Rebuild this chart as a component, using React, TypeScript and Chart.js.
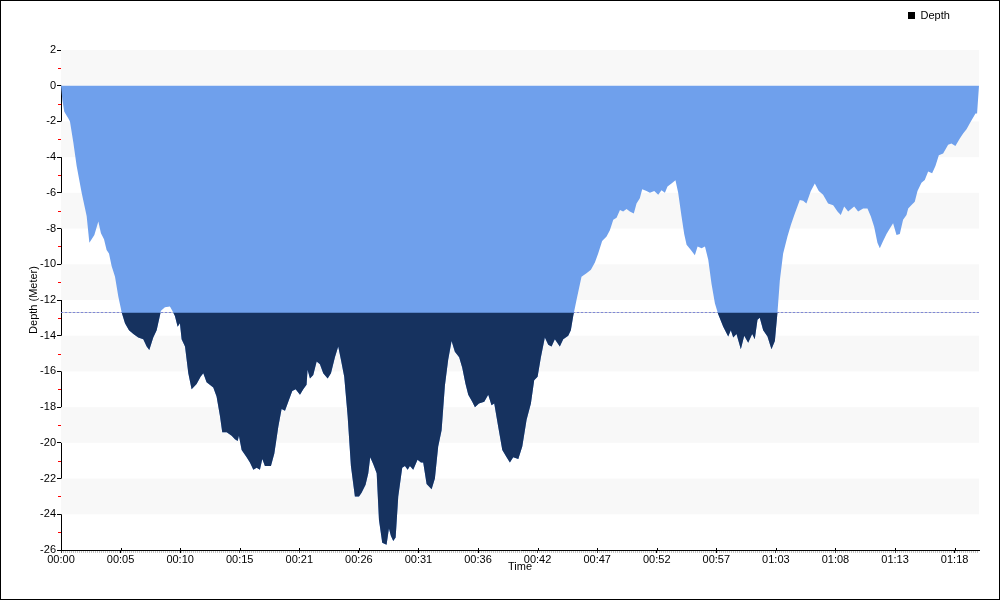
import React, { useEffect, useRef } from "react";
import { Chart, registerables } from "chart.js";

Chart.register(...registerables);

// Elapsed time of each sample, in minutes
const timeMin: number[] = [
  0, 0.12, 0.29, 0.65, 0.79, 1.09, 1.38, 1.82, 2.26, 2.5,
  2.7, 2.94, 3.29, 3.52, 3.79, 4.02, 4.23, 4.46, 4.76, 5.05,
  5.35, 5.64, 5.99, 6.38, 6.81, 7.25, 7.55, 7.78, 8.13, 8.43,
  8.81, 9.16, 9.6, 9.81, 10.04, 10.28, 10.48, 10.63, 10.93, 11.22,
  11.51, 11.95, 12.3, 12.54, 12.83, 13.42, 13.71, 14.01, 14.21, 14.6,
  15.04, 15.33, 15.57, 15.68, 15.92, 16.36, 16.65, 16.95, 17.24, 17.53,
  17.74, 17.97, 18.5, 18.8, 19.15, 19.44, 19.74, 20.03, 20.38, 20.68,
  21.06, 21.35, 21.64, 21.73, 21.94, 22.23, 22.53, 22.82, 23.11, 23.5,
  23.79, 24.14, 24.43, 24.67, 24.96, 25.26, 25.55, 25.9, 26.26, 26.49,
  26.84, 27.08, 27.25, 27.52, 27.82, 28.02, 28.31, 28.69, 28.9, 29.07,
  29.28, 29.49, 29.72, 30.07, 30.31, 30.55, 30.75, 31.04, 31.42, 31.72,
  31.92, 32.22, 32.66, 32.95, 33.24, 33.54, 33.83, 34.12, 34.42, 34.71,
  35.09, 35.36, 35.65, 35.89, 36.24, 36.48, 36.83, 37.3, 37.65, 37.94,
  38.18, 38.53, 38.89, 39.27, 39.56, 39.85, 40.3, 40.65, 41.03, 41.41,
  41.7, 42.0, 42.29, 42.64, 42.94, 43.23, 43.52, 43.96, 44.26, 44.7,
  44.93, 45.14, 45.43, 45.87, 46.31, 46.7, 47.05, 47.34, 47.69, 48.08,
  48.37, 48.67, 48.96, 49.26, 49.54, 49.84, 50.13, 50.48, 50.72, 51.01,
  51.22, 51.6, 51.9, 52.28, 52.63, 52.92, 53.22, 53.45, 53.8, 54.15,
  54.39, 54.68, 54.92, 55.13, 55.51, 55.86, 56.1, 56.45, 56.75, 57.04,
  57.33, 57.63, 57.92, 58.36, 58.8, 59.03, 59.24, 59.53, 59.91, 60.21,
  60.56, 60.91, 61.14, 61.38, 61.58, 61.88, 62.26, 62.61, 62.91, 63.14,
  63.35, 63.64, 64.02, 64.32, 64.67, 65.11, 65.4, 65.69, 66.08, 66.43,
  66.78, 67.16, 67.6, 68.05, 68.43, 68.72, 69.02, 69.37, 69.9, 70.25,
  70.69, 71.07, 71.37, 71.66, 71.95, 72.16, 72.45, 72.75, 73.04, 73.33,
  73.63, 73.92, 74.21, 74.51, 74.66, 74.95, 75.24, 75.48, 75.83, 76.12,
  76.42, 76.77, 77.06, 77.36, 77.74, 78.18, 78.47, 78.82, 79.21, 79.5,
  79.8, 80.18, 80.59, 80.73, 80.9,
];

// Depth of each sample, in meters (negative = below surface)
const depthM: number[] = [
  0, -0.8, -1.46, -1.83, -2.0, -3.2, -4.5, -6.0, -7.3, -8.8,
  -8.6, -8.36, -7.6, -8.26, -8.6, -9.2, -9.4, -10.1, -10.7, -11.8,
  -12.7, -13.3, -13.7, -13.9, -14.1, -14.2, -14.6, -14.8, -14.1, -13.7,
  -12.6, -12.4, -12.37, -12.6, -12.9, -13.5, -13.3, -14.2, -14.6, -16.1,
  -17.0, -16.7, -16.3, -16.1, -16.6, -16.9, -17.4, -18.5, -19.4, -19.4,
  -19.6, -19.8, -19.9, -19.6, -20.4, -20.8, -21.1, -21.5, -21.4, -21.5,
  -20.9, -21.3, -21.3, -20.6, -19.1, -18.1, -18.2, -17.7, -17.1, -17.0,
  -17.3, -17.0, -16.75, -15.9, -16.4, -16.2, -15.45, -15.6, -16.1, -16.4,
  -16.1, -15.2, -14.6, -15.35, -16.3, -18.5, -21.3, -23.0, -23.0, -22.8,
  -22.35, -21.7, -20.8, -21.2, -21.7, -24.3, -25.6, -25.7, -24.8, -25.2,
  -25.5, -25.3, -23.0, -21.4, -21.3, -21.5, -21.3, -21.5, -20.95, -21.1,
  -21.1, -22.3, -22.6, -22.0, -20.2, -19.3, -16.8, -15.35, -14.3, -14.9,
  -15.2, -15.8, -16.7, -17.3, -17.7, -18.0, -17.8, -17.7, -17.3, -17.9,
  -17.8, -19.1, -20.4, -20.8, -21.1, -20.8, -20.9, -20.2, -18.7, -17.8,
  -16.5, -16.3, -15.2, -14.1, -14.5, -14.6, -14.2, -14.6, -14.2, -14.0,
  -13.7, -12.9, -12.0, -10.7, -10.5, -10.3, -9.9, -9.4, -8.7, -8.45,
  -8.1, -7.5, -7.4, -6.96, -7.05, -6.9, -7.05, -7.15, -6.6, -6.3,
  -5.8, -5.9, -6.0, -5.9, -6.1, -5.85, -6.0, -5.65, -5.47, -5.3,
  -6.0, -7.3, -8.3, -8.9, -9.2, -9.5, -9.0, -9.1, -9.0, -9.75,
  -11.1, -12.2, -12.8, -13.5, -14.05, -13.7, -14.1, -13.9, -14.76, -14.0,
  -14.4, -13.9, -14.2, -13.1, -13.0, -13.7, -14.05, -14.76, -14.3, -12.7,
  -10.9, -9.4, -8.45, -7.8, -7.15, -6.4, -6.44, -6.6, -5.9, -5.47,
  -5.9, -6.1, -6.6, -6.7, -7.05, -7.24, -6.77, -7.05, -6.77, -7.05,
  -6.87, -6.87, -7.33, -7.9, -8.8, -9.1, -8.7, -8.3, -8.0, -7.7,
  -8.36, -8.3, -7.5, -7.24, -6.87, -6.68, -6.5, -5.9, -5.43, -5.28,
  -4.8, -4.9, -4.5, -3.9, -3.8, -3.3, -3.23, -3.38, -2.95, -2.67,
  -2.44, -2.0, -1.55, -1.55, 0,
];

// X-axis tick positions (minutes) and range
const xTickMinutes: number[] = [
  0, 5.25, 10.5, 15.75, 21, 26.25, 31.5, 36.75, 42, 47.25, 52.5, 57.75, 63, 68.25, 73.5, 78.75,
];
const xMaxMinutes = 80.9;

// Y-axis range and step
const yMin = -26;
const yMax = 2;
const yStep = 2;

// Depth limit line
const limitDepth = -12.7;

const seriesName = "Depth";
const xTitle = "Time";
const yTitle = "Depth (Meter)";

const BLUE = "#6FA0EC";
const NAVY = "#16325F";
const BAND = "#F8F8F8";

const pad2 = (n: number) => (n < 10 ? "0" + n : "" + n);
const fmtTime = (m: number) => {
  const h = Math.floor(m / 60 + 1e-9);
  const mm = Math.floor(m - h * 60 + 1e-9);
  return pad2(h) + ":" + pad2(mm);
};

const decorPlugin = {
  id: "decor",
  beforeLayout(chart: any) {
    const lg = chart.legend;
    if (lg && !lg.__patched) {
      const f = lg.fit;
      lg.fit = function () {
        f.call(this);
        this.height = 50;
      };
      lg.__patched = true;
    }
  },
  afterLayout(chart: any) {
    const lg = chart.legend;
    if (lg) {
      lg.left = 898;
      lg.top = 0;
    }
  },
  beforeDatasetsDraw(chart: any) {
    const { ctx, chartArea } = chart;
    const y = chart.scales.y;
    ctx.save();
    ctx.fillStyle = BAND;
    let k = 0;
    for (let v = yMax; v > yMin; v -= yStep) {
      if (k % 2 === 0) {
        const y1 = y.getPixelForValue(v);
        const y2 = y.getPixelForValue(v - yStep);
        ctx.fillRect(chartArea.left, y1, chartArea.right - chartArea.left, y2 - y1);
      }
      k++;
    }
    const yl = Math.round(y.getPixelForValue(limitDepth)) + 0.5;
    ctx.strokeStyle = "#A5A5FF";
    ctx.lineWidth = 1;
    ctx.setLineDash([2, 2]);
    ctx.beginPath();
    ctx.moveTo(chartArea.left, yl);
    ctx.lineTo(chartArea.right, yl);
    ctx.stroke();
    ctx.restore();
  },
  afterDraw(chart: any) {
    const { ctx, chartArea } = chart;
    const y = chart.scales.y;
    ctx.save();
    // minor red ticks on y axis
    ctx.strokeStyle = "#FF0000";
    ctx.lineWidth = 1;
    for (let v = yMax - 1; v > yMin; v -= yStep) {
      const py = Math.round(y.getPixelForValue(v)) + 0.5;
      ctx.beginPath();
      ctx.moveTo(chartArea.left - 3, py);
      ctx.lineTo(chartArea.left, py);
      ctx.stroke();
    }
    // minor dotted ticks under x axis
    ctx.strokeStyle = "#8A8A8A";
    ctx.setLineDash([1, 1]);
    ctx.beginPath();
    ctx.moveTo(chartArea.left, chartArea.bottom + 2);
    ctx.lineTo(chartArea.right, chartArea.bottom + 2);
    ctx.stroke();
    ctx.setLineDash([]);
    // upward part of major x ticks
    const x = chart.scales.x;
    ctx.strokeStyle = "#000";
    for (const t of xTickMinutes) {
      const px = Math.round(x.getPixelForValue(t)) + 0.5;
      ctx.beginPath();
      ctx.moveTo(px, chartArea.bottom - 2);
      ctx.lineTo(px, chartArea.bottom);
      ctx.stroke();
    }
    // outer border
    ctx.strokeStyle = "#000";
    ctx.strokeRect(0.5, 0.5, chart.width - 1, chart.height - 1);
    ctx.restore();
  },
};

export default function App() {
  const ref = useRef<HTMLCanvasElement | null>(null);
  useEffect(() => {
    document.body.style.margin = "0";
    if (!ref.current) return;
    Chart.defaults.font.family = '"Liberation Sans", Arial, sans-serif';
    Chart.defaults.font.size = 11;
    Chart.defaults.color = "#000";
    const pts = timeMin.map((t, i) => ({ x: t, y: depthM[i] }));
    const chart = new Chart(ref.current, {
      type: "line",
      data: {
        datasets: [
          {
            label: seriesName,
            data: pts,
            order: 0,
            borderColor: "rgba(0,0,0,0)",
            borderWidth: 1,
            backgroundColor: NAVY,
            pointRadius: 0,
            tension: 0,
            fill: { target: { value: limitDepth }, above: "rgba(0,0,0,0)", below: NAVY },
          } as any,
          {
            label: seriesName + " area",
            data: pts,
            order: 1,
            borderColor: "rgba(0,0,0,0)",
            borderWidth: 1,
            backgroundColor: BLUE,
            pointRadius: 0,
            tension: 0,
            fill: "origin",
          } as any,
        ],
      },
      options: {
        animation: false,
        responsive: false,
        maintainAspectRatio: false,
        events: [],
        layout: { padding: { left: 27, right: 21, top: 0, bottom: 26 } },
        plugins: {
          tooltip: { enabled: false },
          legend: {
            display: true,
            position: "top",
            align: "start",
            labels: {
              boxWidth: 7,
              boxHeight: 7,
              padding: 10,
              color: "#000",
              font: { size: 11 },
              generateLabels: () => [
                {
                  text: seriesName,
                  fillStyle: "#000",
                  strokeStyle: "#000",
                  lineWidth: 0,
                  hidden: false,
                  datasetIndex: 0,
                  fontColor: "#000",
                } as any,
              ],
            },
          },
        },
        scales: {
          x: {
            type: "linear",
            min: 0,
            max: xMaxMinutes,
            afterBuildTicks: (s: any) => {
              s.ticks = xTickMinutes.map((v) => ({ value: v }));
            },
            afterFit: (s: any) => {
              s.height = 24;
            },
            ticks: {
              callback: (v: any) => fmtTime(Number(v)),
              autoSkip: false,
              maxRotation: 0,
              padding: 0,
              color: "#000",
              font: { size: 11 },
            },
            grid: { drawOnChartArea: false, drawTicks: true, tickLength: 3, color: "#000" },
            border: { color: "#000", width: 1 },
            title: { display: true, text: xTitle, color: "#000", font: { size: 11 }, padding: 0 },
          },
          y: {
            type: "linear",
            min: yMin,
            max: yMax,
            afterFit: (s: any) => {
              s.width = 34;
            },
            ticks: { stepSize: yStep, padding: 1, color: "#000", font: { size: 11 } },
            grid: { drawOnChartArea: false, drawTicks: true, tickLength: 4, color: "#000" },
            border: { color: "#000", width: 1 },
            title: { display: true, text: yTitle, color: "#000", font: { size: 11 }, padding: 0 },
          },
        },
      } as any,
      plugins: [decorPlugin as any],
    });
    return () => chart.destroy();
  }, []);
  return (
    <div style={{ width: 1000, height: 600 }}>
      <canvas ref={ref} width={1000} height={600} style={{ display: "block" }} />
    </div>
  );
}
